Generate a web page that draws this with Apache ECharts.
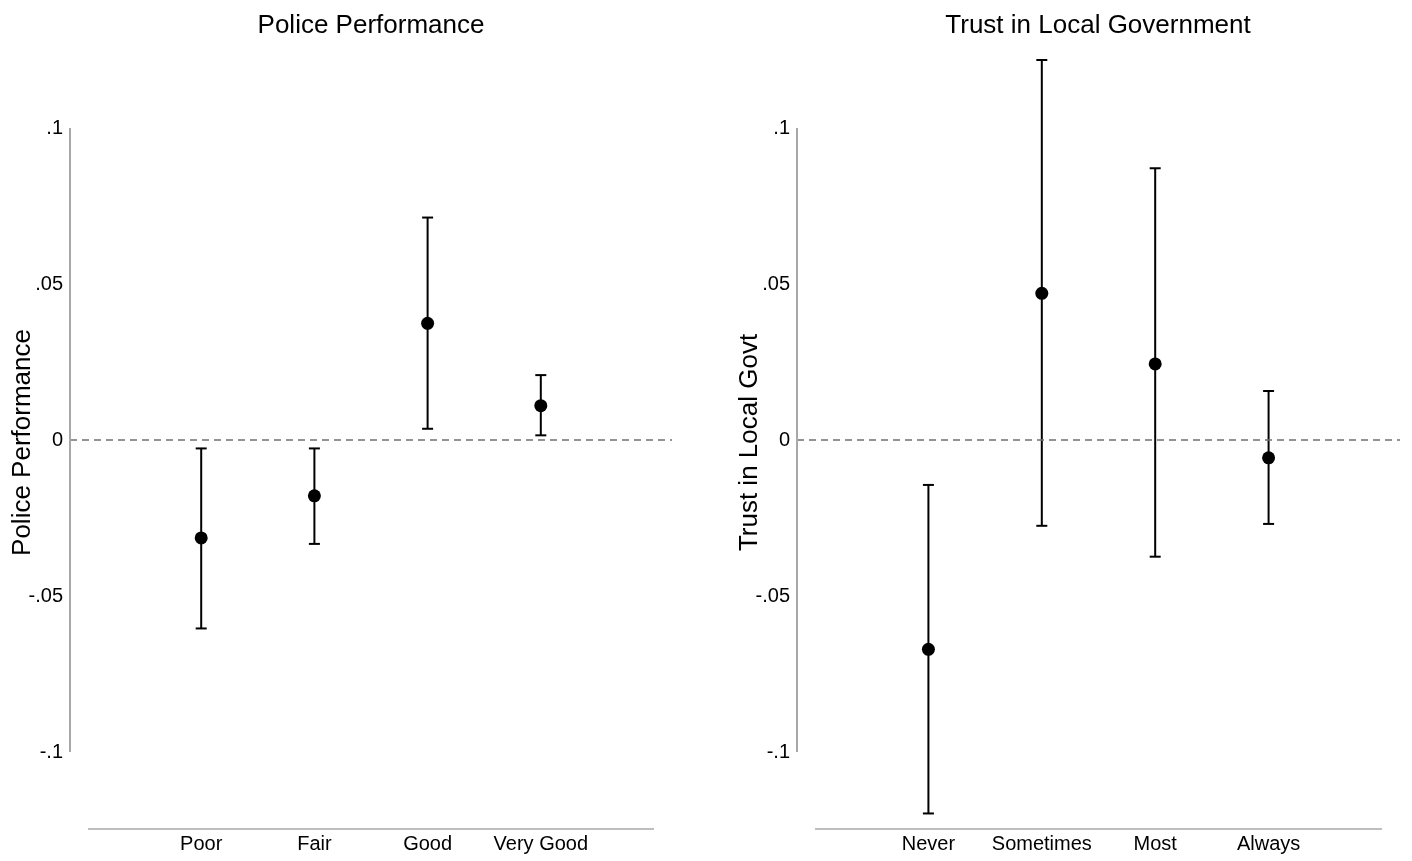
<!DOCTYPE html>
<html>
<head>
<meta charset="utf-8">
<script src="https://cdn.jsdelivr.net/npm/echarts@6/dist/echarts.min.js"></script>
<style>
html,body{margin:0;padding:0;background:#fff;}
#chart{width:1412px;height:861px;}
</style>
</head>
<body>
<div id="chart"></div>
<script>
// ---- Data ----
const leftTitle = 'Police Performance';
const leftYName = 'Police Performance';
const leftCats = ['Poor', 'Fair', 'Good', 'Very Good'];
const leftEst = [-0.0314, -0.0179, 0.0374, 0.0110];
const leftLo  = [-0.0604, -0.0333, 0.0036, 0.0015];
const leftHi  = [-0.0027, -0.0027, 0.0713, 0.0208];

const rightTitle = 'Trust in Local Government';
const rightYName = 'Trust in Local Govt';
const rightCats = ['Never', 'Sometimes', 'Most', 'Always'];
const rightEst = [-0.0671, 0.0470, 0.0244, -0.0057];
const rightLo  = [-0.1197, -0.0275, -0.0374, -0.0269];
const rightHi  = [-0.0144, 0.1218, 0.0871, 0.0157];

const yTickVals = [-0.1, -0.05, 0, 0.05, 0.1];
const yTickLabels = ['-.1', '-.05', '0', '.05', '.1'];

// ---- Layout / scale settings ----
const Y_MIN = -0.12468, Y_MAX = 0.12308;
const X_MIN = -0.159, X_MAX = 5.159;
const FONT = '"Liberation Sans", Arial, Helvetica, sans-serif';
const AXIS_GREY = '#a8a8a8';

function yLabel(v) {
  let best = 0, bd = Infinity;
  yTickVals.forEach((t, i) => { const d = Math.abs(t - v); if (d < bd) { bd = d; best = i; } });
  return yTickLabels[best];
}

function panel(idx, cats, est, lo, hi, yName) {
  const xVals = cats.map((c, i) => i + 1);
  const xAxis = {
    type: 'value', gridIndex: idx, min: X_MIN, max: X_MAX,
    axisLine: { show: false }, axisTick: { show: false }, splitLine: { show: false },
    axisLabel: {
      customValues: xVals,
      formatter: v => cats[Math.round(v) - 1] || '',
      fontSize: 20, color: '#000', fontFamily: FONT, margin: 5
    }
  };
  const yAxis = {
    type: 'value', gridIndex: idx, min: Y_MIN, max: Y_MAX,
    axisLine: { show: false }, axisTick: { show: false }, splitLine: { show: false },
    axisLabel: {
      customValues: yTickVals,
      formatter: yLabel,
      fontSize: 20, color: '#000', fontFamily: FONT, margin: 7
    },
    name: yName, nameLocation: 'middle', nameGap: 34, nameRotate: 90,
    nameMoveOverlap: false,
    nameTextStyle: { fontSize: 26, color: '#000', fontFamily: FONT }
  };
  const bars = {
    type: 'custom', xAxisIndex: idx, yAxisIndex: idx, clip: false, silent: true,
    data: xVals.map((x, i) => [x, lo[i], hi[i]]),
    renderItem: function (params, api) {
      const x = api.value(0);
      const pLo = api.coord([x, api.value(1)]);
      const pHi = api.coord([x, api.value(2)]);
      const hw = 5.5;
      const st = { stroke: '#000', lineWidth: 2 };
      return {
        type: 'group',
        children: [
          { type: 'line', shape: { x1: pLo[0], y1: pLo[1], x2: pHi[0], y2: pHi[1] }, style: st },
          { type: 'line', shape: { x1: pLo[0] - hw, y1: pLo[1], x2: pLo[0] + hw, y2: pLo[1] }, style: st },
          { type: 'line', shape: { x1: pHi[0] - hw, y1: pHi[1], x2: pHi[0] + hw, y2: pHi[1] }, style: st }
        ]
      };
    },
    z: 3
  };
  const pts = {
    type: 'scatter', xAxisIndex: idx, yAxisIndex: idx, silent: true,
    data: xVals.map((x, i) => [x, est[i]]),
    symbol: 'circle', symbolSize: 13,
    itemStyle: { color: '#000', opacity: 1 },
    z: 4,
    markLine: {
      silent: true, symbol: ['none', 'none'], label: { show: false },
      animation: false,
      data: [
        [{ coord: [X_MIN, 0], lineStyle: { color: '#707070', width: 1.5, type: [7, 5] } }, { coord: [X_MAX, 0] }],
        [{ coord: [X_MIN, -0.1], lineStyle: { color: AXIS_GREY, width: 2, type: 'solid' } }, { coord: [X_MIN, 0.1] }],
        [{ coord: [0, Y_MIN], lineStyle: { color: AXIS_GREY, width: 1.5, type: 'solid' } }, { coord: [5, Y_MIN] }]
      ]
    }
  };
  return { xAxis, yAxis, series: [bars, pts] };
}

const L = panel(0, leftCats, leftEst, leftLo, leftHi, leftYName);
const R = panel(1, rightCats, rightEst, rightLo, rightHi, rightYName);

const chart = echarts.init(document.getElementById('chart'), null, { renderer: 'canvas' });
chart.setOption({
  animation: false,
  backgroundColor: '#ffffff',
  title: [
    { text: leftTitle, left: 366, top: 8, textAlign: 'center',
      textStyle: { fontSize: 26, fontWeight: 'normal', color: '#000', fontFamily: FONT } },
    { text: rightTitle, left: 1093, top: 8, textAlign: 'center',
      textStyle: { fontSize: 26, fontWeight: 'normal', color: '#000', fontFamily: FONT } }
  ],
  grid: [
    { left: 70, right: 740, top: 56, bottom: 32, containLabel: false },
    { left: 797, right: 12, top: 56, bottom: 32, containLabel: false }
  ],
  xAxis: [L.xAxis, R.xAxis],
  yAxis: [L.yAxis, R.yAxis],
  series: [...L.series, ...R.series]
});
</script>
</body>
</html>
